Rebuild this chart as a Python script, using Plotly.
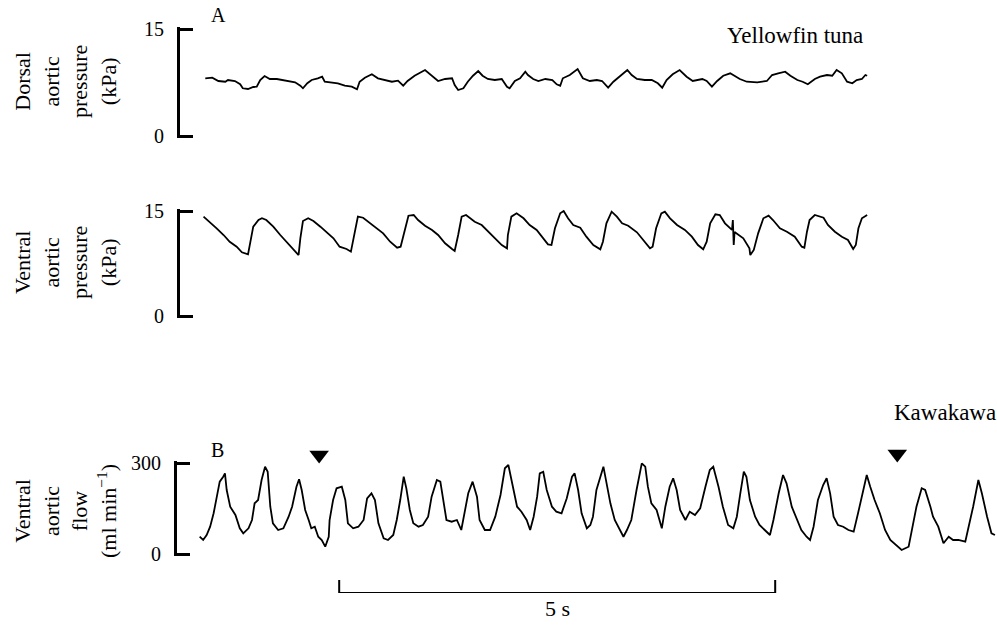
import plotly.graph_objects as go

# ---------------- data ----------------
# Panel A, yellowfin tuna: dorsal aortic pressure (kPa) vs time (s)
DORSAL_T = [0.29, 0.37, 0.44, 0.52, 0.55, 0.63, 0.69, 0.72, 0.78, 0.84, 0.88, 0.92, 0.97, 1.03,
            1.11, 1.18, 1.26, 1.32, 1.38, 1.41, 1.46, 1.51, 1.58, 1.63, 1.66, 1.74, 1.81, 1.89,
            1.97, 2.03, 2.06, 2.12, 2.20, 2.27, 2.35, 2.43, 2.50, 2.56, 2.61, 2.69, 2.81, 2.89,
            2.96, 3.04, 3.12, 3.15, 3.19, 3.25, 3.30, 3.36, 3.42, 3.47, 3.53, 3.61, 3.69, 3.75,
            3.78, 3.84, 3.90, 3.96, 3.99, 4.05, 4.11, 4.19, 4.27, 4.32, 4.36, 4.39, 4.47, 4.56,
            4.62, 4.70, 4.78, 4.84, 4.91, 4.97, 5.05, 5.13, 5.18, 5.24, 5.33, 5.41, 5.48, 5.53,
            5.58, 5.65, 5.73, 5.81, 5.88, 5.99, 6.04, 6.10, 6.16, 6.23, 6.31, 6.36, 6.42, 6.50,
            6.62, 6.73, 6.79, 6.86, 6.94, 7.00, 7.08, 7.14, 7.20, 7.28, 7.34, 7.42, 7.48, 7.53,
            7.59, 7.65, 7.71, 7.76, 7.82, 7.86, 7.88]
DORSAL_P = [8.09, 8.17, 7.71, 7.61, 7.85, 7.71, 7.25, 6.69, 6.59, 6.87, 6.91, 7.85, 8.41, 7.99,
            7.99, 7.85, 7.71, 7.53, 7.05, 6.69, 7.39, 7.85, 8.09, 8.31, 7.61, 7.53, 7.39, 7.05,
            6.91, 6.55, 7.61, 8.17, 8.65, 8.09, 7.85, 7.61, 7.75, 7.05, 7.71, 8.45, 9.25, 8.45,
            7.71, 7.99, 8.09, 7.15, 6.45, 6.69, 7.61, 8.45, 9.11, 8.45, 7.99, 7.85, 7.99, 6.91,
            6.69, 7.71, 8.09, 9.01, 8.55, 7.99, 7.71, 7.99, 7.85, 7.25, 7.05, 8.09, 8.55, 9.39,
            8.09, 7.71, 7.85, 7.71, 6.77, 7.61, 8.45, 9.25, 8.55, 7.99, 7.85, 7.85, 7.39, 6.77,
            7.85, 8.65, 9.25, 8.31, 7.71, 7.99, 7.71, 6.91, 7.71, 8.45, 8.79, 8.45, 7.99, 7.61,
            7.53, 7.71, 8.55, 8.79, 9.01, 8.45, 7.85, 7.61, 7.25, 7.99, 8.31, 8.55, 8.45, 9.25,
            8.79, 7.61, 7.39, 7.85, 7.99, 8.55, 8.45]

# Panel A, yellowfin tuna: ventral aortic pressure (kPa) vs time (s)
VENTRAL_T = [0.27, 0.34, 0.42, 0.50, 0.57, 0.65, 0.71, 0.78, 0.80, 0.84, 0.90, 0.94, 0.99, 1.07,
             1.15, 1.22, 1.30, 1.36, 1.38, 1.41, 1.47, 1.53, 1.61, 1.68, 1.76, 1.83, 1.91, 1.96,
             2.00, 2.04, 2.10, 2.18, 2.26, 2.33, 2.41, 2.49, 2.53, 2.57, 2.62, 2.68, 2.73, 2.81,
             2.89, 2.96, 3.04, 3.12, 3.15, 3.19, 3.23, 3.28, 3.33, 3.38, 3.46, 3.54, 3.61, 3.69,
             3.75, 3.76, 3.80, 3.86, 3.94, 4.01, 4.09, 4.17, 4.22, 4.26, 4.30, 4.36, 4.40, 4.45,
             4.51, 4.59, 4.66, 4.74, 4.82, 4.85, 4.89, 4.95, 5.01, 5.07, 5.14, 5.24, 5.31, 5.39,
             5.42, 5.46, 5.52, 5.56, 5.62, 5.70, 5.79, 5.87, 5.94, 6.00, 6.04, 6.08, 6.14, 6.19,
             6.25, 6.33, 6.34, 6.35, 6.36, 6.38, 6.46, 6.53, 6.54, 6.58, 6.63, 6.69, 6.75, 6.80,
             6.88, 6.96, 7.05, 7.13, 7.16, 7.19, 7.22, 7.28, 7.38, 7.43, 7.51, 7.59, 7.66, 7.72,
             7.75, 7.78, 7.82, 7.88]
VENTRAL_P = [14.19, 13.47, 12.53, 11.57, 10.61, 9.90, 9.10, 8.81, 10.14, 12.76, 13.71, 13.96, 13.71, 12.76,
             11.57, 10.61, 9.43, 8.71, 11.10, 13.57, 13.96, 13.57, 12.76, 12.04, 11.10, 9.90, 9.57, 9.19,
             11.57, 14.19, 14.04, 13.24, 12.43, 11.81, 10.61, 9.76, 9.90, 12.04, 14.33, 14.43, 13.71, 12.90,
             12.29, 11.57, 10.39, 9.57, 9.29, 11.57, 14.19, 14.43, 13.96, 13.47, 13.00, 12.04, 11.10, 10.14,
             9.67, 11.57, 14.19, 14.67, 13.96, 13.00, 12.29, 11.10, 10.24, 10.14, 12.53, 14.67, 15.00, 13.96,
             13.00, 12.61, 11.33, 10.14, 9.53, 10.61, 13.24, 14.90, 14.19, 13.24, 12.90, 11.96, 10.86, 9.67,
             9.90, 12.53, 14.67, 14.90, 13.96, 13.00, 12.29, 11.33, 10.14, 9.53, 10.61, 13.24, 14.53, 14.43,
             13.24, 12.29, 13.71, 10.14, 12.00, 11.81, 11.10, 9.67, 8.71, 9.43, 11.81, 13.96, 14.33, 13.71,
             12.53, 12.04, 11.33, 9.90, 9.76, 12.04, 13.71, 14.43, 14.04, 13.00, 12.04, 11.33, 10.86, 9.57,
             10.14, 12.53, 13.96, 14.43]

# Panel B, kawakawa: ventral aortic flow (ml min-1) vs time (s)
FLOW_T = [0.26, 0.30, 0.34, 0.38, 0.42, 0.46, 0.49, 0.53, 0.55, 0.57, 0.61, 0.67, 0.72, 0.76,
          0.82, 0.86, 0.89, 0.93, 0.97, 1.01, 1.04, 1.07, 1.10, 1.16, 1.22, 1.28, 1.32, 1.37,
          1.40, 1.43, 1.47, 1.51, 1.54, 1.58, 1.62, 1.66, 1.70, 1.74, 1.75, 1.79, 1.83, 1.89,
          1.93, 1.96, 2.02, 2.08, 2.14, 2.18, 2.23, 2.27, 2.31, 2.37, 2.42, 2.48, 2.52, 2.56,
          2.60, 2.63, 2.67, 2.71, 2.77, 2.82, 2.88, 2.92, 2.98, 3.02, 3.05, 3.09, 3.15, 3.21,
          3.26, 3.30, 3.34, 3.39, 3.44, 3.47, 3.53, 3.59, 3.65, 3.71, 3.76, 3.80, 3.84, 3.90,
          3.95, 4.01, 4.05, 4.09, 4.13, 4.16, 4.20, 4.24, 4.30, 4.35, 4.41, 4.47, 4.53, 4.56,
          4.60, 4.64, 4.70, 4.74, 4.77, 4.81, 4.89, 4.93, 4.97, 5.02, 5.08, 5.12, 5.16, 5.21,
          5.27, 5.33, 5.37, 5.40, 5.44, 5.50, 5.56, 5.60, 5.65, 5.69, 5.73, 5.77, 5.83, 5.88,
          5.94, 6.00, 6.06, 6.11, 6.15, 6.21, 6.26, 6.32, 6.38, 6.42, 6.46, 6.50, 6.53, 6.57,
          6.63, 6.68, 6.74, 6.80, 6.84, 6.90, 6.95, 6.99, 7.05, 7.11, 7.16, 7.22, 7.26, 7.30,
          7.35, 7.41, 7.45, 7.49, 7.53, 7.58, 7.64, 7.70, 7.76, 7.81, 7.87, 7.91, 7.95, 8.00,
          8.06, 8.12, 8.18, 8.25, 8.31, 8.39, 8.43, 8.48, 8.54, 8.58, 8.64, 8.67, 8.73, 8.79,
          8.85, 8.90, 8.96, 9.04, 9.07, 9.13, 9.19, 9.23, 9.29, 9.34, 9.38]
FLOW_Q = [57.0, 46.2, 62.6, 90.0, 134.2, 188.9, 238.4, 254.8, 266.0, 211.0, 155.9, 128.6, 84.7, 68.2,
          84.7, 112.1, 167.1, 178.0, 244.0, 287.8, 271.3, 155.9, 101.2, 79.1, 84.7, 123.0, 155.9, 221.9,
          246.3, 211.0, 145.1, 112.1, 84.7, 90.0, 57.0, 46.2, 24.1, 57.0, 112.1, 178.0, 216.6, 221.9,
          178.0, 101.2, 84.7, 90.0, 112.1, 183.6, 200.1, 178.0, 101.2, 51.8, 46.2, 62.6, 112.1, 178.0,
          254.8, 216.6, 145.1, 101.2, 90.0, 95.6, 123.0, 188.9, 244.0, 238.4, 178.0, 112.1, 106.5, 112.1,
          79.1, 134.2, 200.1, 238.4, 188.9, 112.1, 79.1, 79.1, 123.0, 194.5, 282.5, 293.4, 233.1, 155.9,
          139.5, 112.1, 79.1, 123.0, 188.9, 266.0, 271.3, 211.0, 155.9, 139.5, 134.2, 183.6, 254.8, 266.0,
          211.0, 134.2, 84.7, 95.6, 123.0, 211.0, 287.8, 221.9, 167.1, 112.1, 79.1, 57.0, 79.1, 112.1,
          211.0, 299.0, 287.8, 221.9, 167.1, 145.1, 84.7, 155.9, 221.9, 249.6, 211.0, 145.1, 112.1, 139.5,
          128.6, 150.7, 221.9, 276.9, 287.8, 221.9, 155.9, 95.6, 84.7, 123.0, 200.1, 271.3, 254.8, 178.0,
          123.0, 95.6, 79.1, 62.6, 112.1, 200.1, 260.4, 233.1, 155.9, 112.1, 79.1, 57.0, 46.2, 90.0,
          178.0, 227.5, 249.6, 200.1, 123.0, 95.6, 90.0, 79.1, 73.5, 134.2, 211.0, 260.4, 221.9, 178.0,
          134.2, 79.1, 46.2, 29.7, 13.2, 24.1, 79.1, 155.9, 216.6, 211.0, 155.9, 123.0, 90.0, 35.3,
          57.0, 46.2, 46.2, 40.5, 79.1, 155.9, 244.0, 200.1, 123.0, 68.2, 62.6]

# event markers (arrowheads) above the flow trace
MARK_T = [1.63, 8.26]
MARK_Q = [326, 330]

# time scale bar
SCALE_START_S = 1.86
SCALE_LEN_S = 5

# ---------------- figure ----------------
W, H = 997, 625
FONT = "Liberation Serif"
PXS = 87.2  # pixels per second in the reference layout
PAD = 1.6   # px of axis line beyond the end ticks (keeps the end ticks visible)

def py(p):
    return 1 - p / H

fig = go.Figure()

line_style = dict(color="black", width=1.8)
fig.add_trace(go.Scatter(x=DORSAL_T, y=DORSAL_P, mode="lines", line=line_style,
                         xaxis="x", yaxis="y", showlegend=False, hoverinfo="skip"))
fig.add_trace(go.Scatter(x=VENTRAL_T, y=VENTRAL_P, mode="lines", line=line_style,
                         xaxis="x2", yaxis="y2", showlegend=False, hoverinfo="skip"))
# arrowheads on a taller, invisible flow axis with the same ml/min-per-pixel scale
fig.add_trace(go.Scatter(x=MARK_T, y=MARK_Q, mode="markers",
                         marker=dict(symbol="triangle-down", size=17, color="black"),
                         xaxis="x3", yaxis="y5", showlegend=False, hoverinfo="skip"))
fig.add_trace(go.Scatter(x=FLOW_T, y=FLOW_Q, mode="lines", line=line_style,
                         xaxis="x3", yaxis="y3", showlegend=False, hoverinfo="skip"))
# scale bar, drawn on its own strip that shares the flow panel's time scale
fig.add_trace(go.Scatter(x=[SCALE_START_S, SCALE_START_S, SCALE_START_S + SCALE_LEN_S,
                            SCALE_START_S + SCALE_LEN_S],
                         y=[1, 0, 0, 1], mode="lines", line=dict(color="black", width=2),
                         xaxis="x4", yaxis="y4", showlegend=False, hoverinfo="skip",
                         cliponaxis=False))

xA = [180 / W, 1]
xB = [177 / W, 1]
hidden_x = dict(visible=False, showgrid=False, zeroline=False)
fig.update_layout(
    xaxis=dict(domain=xA, range=[0, (W - 180) / PXS], anchor="y", **hidden_x),
    xaxis2=dict(domain=xA, range=[0, (W - 180) / PXS], anchor="y2", **hidden_x),
    xaxis3=dict(domain=xB, range=[0, (W - 177) / PXS], anchor="y3", **hidden_x),
    xaxis4=dict(domain=xB, range=[0, (W - 177) / PXS], anchor="y4", **hidden_x),
)

def yax(top_px, bot_px, vmax, anchor):
    per_px = vmax / (bot_px - top_px)
    ticks = [0, vmax]
    return dict(domain=[py(bot_px + PAD), py(top_px - PAD)],
                range=[-PAD * per_px, vmax + PAD * per_px], anchor=anchor,
                showline=True, linecolor="black", linewidth=3, ticks="inside", ticklen=13,
                tickwidth=3, tickcolor="black", tickvals=ticks,
                ticktext=[str(t) for t in ticks], showgrid=False, zeroline=False,
                tickfont=dict(family=FONT, size=20, color="black"),
                ticklabelstandoff=9, fixedrange=True, automargin=False)

FLOW_PER_PX = 300 / (554 - 463)
fig.update_layout(
    yaxis=yax(29, 136, 15, "x"),
    yaxis2=yax(211, 316, 15, "x2"),
    yaxis3=yax(463, 554, 300, "x3"),
    yaxis4=dict(domain=[py(593), py(580)], range=[0, 1], anchor="x4", visible=False),
    yaxis5=dict(domain=[py(554 + PAD), py(430)], anchor="x3", visible=False,
                range=[-PAD * FLOW_PER_PX, (554 - 430) * FLOW_PER_PX]),
)

ann_font = dict(family=FONT, size=22, color="black")
annotations = [
    dict(text="A", x=218 / W, y=py(15), xanchor="center", yanchor="middle",
         font=dict(family=FONT, size=20, color="black")),
    dict(text="B", x=217 / W, y=py(450), xanchor="center", yanchor="middle",
         font=dict(family=FONT, size=20, color="black")),
    dict(text="Yellowfin tuna", x=795 / W, y=py(35), xanchor="center", yanchor="middle",
         font=dict(family=FONT, size=23, color="black")),
    dict(text="Kawakawa", x=945 / W, y=py(412), xanchor="center", yanchor="middle",
         font=dict(family=FONT, size=23, color="black")),
    dict(text="5 s", x=557 / W, y=py(608), xanchor="center", yanchor="middle",
         font=ann_font),
    dict(text="Dorsal<br>aortic<br>pressure<br>(kPa)", x=66 / W, y=py(82), textangle=-90,
         xanchor="center", yanchor="middle", align="center", font=ann_font),
    dict(text="Ventral<br>aortic<br>pressure<br>(kPa)", x=65 / W, y=py(263), textangle=-90,
         xanchor="center", yanchor="middle", align="center", font=ann_font),
    dict(text="Ventral<br>aortic<br>flow<br>(ml min<sup>\u22121</sup>)", x=65 / W, y=py(511),
         textangle=-90, xanchor="center", yanchor="middle", align="center", font=ann_font),
]
for a in annotations:
    a.update(xref="paper", yref="paper", showarrow=False)

fig.update_layout(width=W, height=H, margin=dict(l=0, r=0, t=0, b=0, pad=0, autoexpand=False),
                  paper_bgcolor="white", plot_bgcolor="rgba(0,0,0,0)", annotations=annotations,
                  showlegend=False)

fig.write_html("out.html", config={"displayModeBar": False, "responsive": False},
               post_script="document.body.style.margin='0px';"
                           "document.body.style.overflow='hidden';")
